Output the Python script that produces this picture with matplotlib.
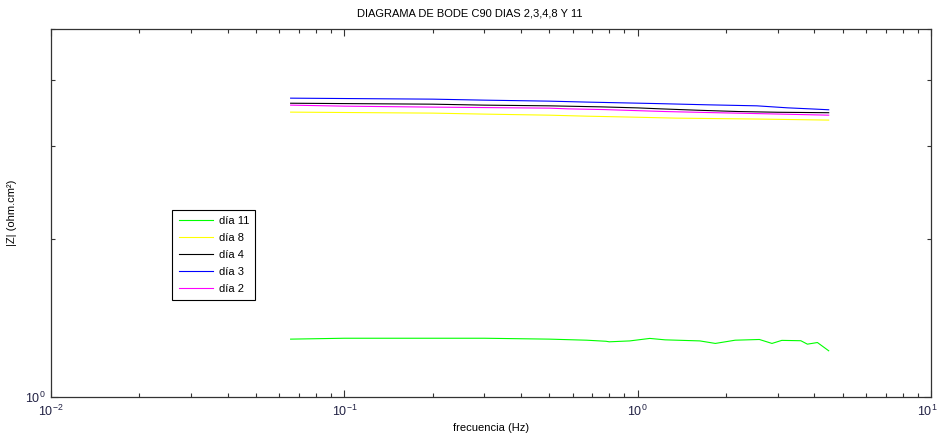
import math
import matplotlib
matplotlib.use("Agg")
from matplotlib import pyplot as plt
from matplotlib import transforms
from matplotlib.ticker import LogLocator, NullFormatter, FuncFormatter

plt.rcParams['font.family'] = ['Liberation Sans', 'DejaVu Sans']
plt.rcParams['mathtext.fontset'] = 'custom'
plt.rcParams['mathtext.rm'] = 'Liberation Sans'

f_dia3 = [0.0656, 0.2, 0.3, 0.5, 0.67, 1.15, 1.73, 2.55, 3.24, 4.0, 4.48]
z_dia3 = [3.695, 3.679, 3.663, 3.647, 3.632, 3.609, 3.589, 3.573, 3.542, 3.523, 3.512]

f_dia4 = [0.0656, 0.2, 0.3, 0.5, 0.75, 1.0, 1.2, 1.6, 2.2, 3.0, 4.48]
z_dia4 = [3.614, 3.599, 3.584, 3.573, 3.557, 3.541, 3.526, 3.505, 3.485, 3.474, 3.467]

f_dia2 = [0.0656, 0.1, 0.2, 0.5, 0.58, 0.77, 0.96, 1.24, 1.73, 2.8, 4.48]
z_dia2 = [3.584, 3.568, 3.553, 3.537, 3.526, 3.515, 3.501, 3.485, 3.470, 3.450, 3.430]

f_dia8 = [0.0656, 0.2, 0.3, 0.5, 0.67, 0.96, 1.35, 2.6, 4.48]
z_dia8 = [3.476, 3.461, 3.446, 3.430, 3.415, 3.401, 3.386, 3.372, 3.357]

f_dia11 = [0.0656, 0.1, 0.3, 0.5, 0.67, 0.78, 0.8, 0.94, 1.1, 1.24, 1.63, 1.84,
           2.15, 2.6, 2.87, 3.1, 3.6, 3.79, 4.1, 4.48]
z_dia11 = [1.288, 1.293, 1.293, 1.288, 1.282, 1.276, 1.273, 1.278, 1.292, 1.284,
           1.278, 1.264, 1.282, 1.286, 1.264, 1.281, 1.279, 1.260, 1.269, 1.224]

fig = plt.figure(figsize=(9.39, 4.36), dpi=100)
ax = fig.add_axes([51/939, 39/436, 880/939, 368/436])

lw = 0.8
l11, = ax.loglog(f_dia11, z_dia11, color='#00ff00', lw=lw)
l8, = ax.loglog(f_dia8, z_dia8, color='#ffff00', lw=lw)
l4, = ax.loglog(f_dia4, z_dia4, color='black', lw=lw)
l3, = ax.loglog(f_dia3, z_dia3, color='blue', lw=lw)
l2, = ax.loglog(f_dia2, z_dia2, color='magenta', lw=lw)

ax.set_xlim(1e-2, 1e1)
ax.set_ylim(1, 5)

def pot10(v, pos):
    e = int(round(math.log10(v)))
    return '$\\mathregular{10^{' + ('-' if e < 0 else '') + str(abs(e)) + '}}$'

ax.xaxis.set_major_locator(LogLocator(base=10))
ax.xaxis.set_minor_locator(LogLocator(base=10, subs=range(2, 10)))
ax.xaxis.set_major_formatter(FuncFormatter(pot10))
ax.xaxis.set_minor_formatter(NullFormatter())
ax.yaxis.set_major_locator(LogLocator(base=10))
ax.yaxis.set_minor_locator(LogLocator(base=10, subs=range(2, 10)))
ax.yaxis.set_major_formatter(FuncFormatter(pot10))
ax.yaxis.set_minor_formatter(NullFormatter())

ax.tick_params(which='both', direction='in', top=True, right=True,
               labelsize=9, labelcolor='#222244', color='#333333')
ax.tick_params(which='major', length=5, width=0.8)
ax.tick_params(axis='x', which='major', pad=5)
ax.tick_params(axis='y', which='major', pad=4)
ax.tick_params(which='minor', length=3, width=0.8)
for s in ax.spines.values():
    s.set_color('#333333')
    s.set_linewidth(0.9)

ax.set_xlabel('frecuencia (Hz)', fontsize=8)
ax.xaxis.set_label_coords(0.5, -26/368)
ax.set_ylabel('|Z| (ohm.cm²)', fontsize=8)
ax.yaxis.set_label_coords(-34/880, 0.5)
fig.text(470/939, 1 - 14/436, 'DIAGRAMA DE BODE C90 DIAS 2,3,4,8 Y 11',
         ha='center', va='center', fontsize=8)

leg = ax.legend([l11, l8, l4, l3, l2], ['día 11', 'día 8', 'día 4', 'día 3', 'día 2'],
                loc='upper left', bbox_to_anchor=(0.138, 0.508), fontsize=8,
                frameon=True, fancybox=False, framealpha=1, edgecolor='black',
                handlelength=3.1, handletextpad=0.5, labelspacing=0.62,
                borderpad=0.55, borderaxespad=0)
leg.get_frame().set_linewidth(0.8)

# el ultimo 10^1 se corre un poco para que no se corte
fig.canvas.draw()
for t in ax.xaxis.get_major_ticks():
    if abs(t.get_loc() - 10) < 1e-6:
        off = transforms.ScaledTranslation(-4/100, 0, fig.dpi_scale_trans)
        t.label1.set_transform(t.label1.get_transform() + off)

fig.savefig('out.png', dpi=100)
